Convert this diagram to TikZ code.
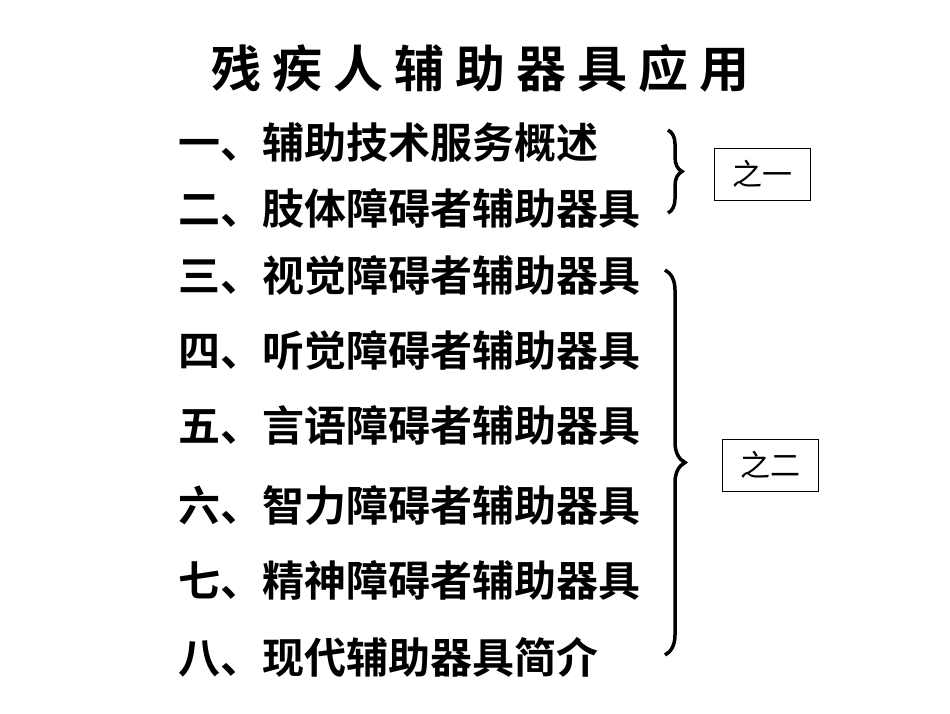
\documentclass[tikz,border=0pt]{standalone}
\usepackage{fontspec}
\newfontfamily\cjk{Noto Sans CJK SC}
\newfontfamily\cjkb{Noto Sans CJK SC Bold}
\newfontfamily\cjkt[LetterSpace=22]{Noto Sans CJK SC Bold}
\usetikzlibrary{decorations.pathreplacing}
\begin{document}
\begin{tikzpicture}[x=1pt,y=-1pt,
  item/.style={anchor=west,inner sep=0,font=\cjkb\fontsize{42}{42}\selectfont},
  tag/.style={draw,line width=0.8pt,font=\cjk\fontsize{30}{30}\selectfont,minimum width=96,minimum height=52,inner sep=0},
  br/.style={decorate,decoration={brace,amplitude=14pt},line width=3.5pt}]
\useasboundingbox (0,0) rectangle (950,713);
\node[font=\cjkt\fontsize{50}{50}\selectfont] (title) at (480,68) {残疾人辅助器具应用};
\node[item] (i1) at (178,143) {一、辅助技术服务概述};
\node[item] (i2) at (178,208) {二、肢体障碍者辅助器具};
\node[item] (i3) at (178,275) {三、视觉障碍者辅助器具};
\node[item] (i4) at (178,350) {四、听觉障碍者辅助器具};
\node[item] (i5) at (178,425) {五、言语障碍者辅助器具};
\node[item] (i6) at (178,505) {六、智力障碍者辅助器具};
\node[item] (i7) at (178,580) {七、精神障碍者辅助器具};
\node[item] (i8) at (178,657) {八、现代辅助器具简介};
\coordinate (b1a) at (668,130); \coordinate (b1b) at (668,213);
\coordinate (b2a) at (665,270); \coordinate (b2b) at (665,655);
\draw[br] (b1a) -- (b1b);
\draw[br,decoration={brace,amplitude=20pt}] (b2a) -- (b2b);
\node[tag] (t1) at (762,174) {之一};
\node[tag] (t2) at (770,465) {之二};
\end{tikzpicture}
\end{document}
